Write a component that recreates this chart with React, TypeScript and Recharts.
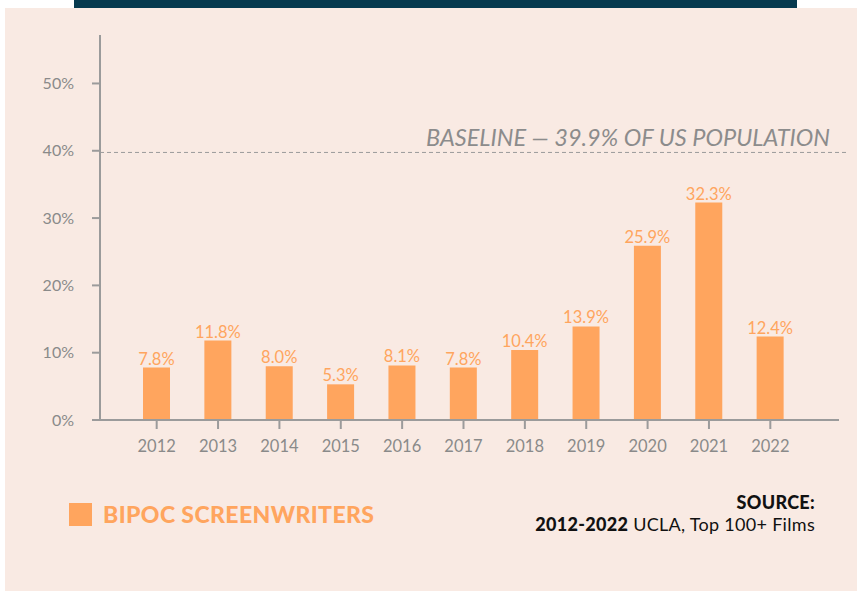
import { BarChart, Bar, XAxis, YAxis, ReferenceLine, LabelList } from "recharts";

const years = ["2012", "2013", "2014", "2015", "2016", "2017", "2018", "2019", "2020", "2021", "2022"];
const bipocShare = [7.8, 11.8, 8.0, 5.3, 8.1, 7.8, 10.4, 13.9, 25.9, 32.3, 12.4];
const yTicks = [0, 10, 20, 30, 40, 50];
const baselineValue = 39.9;
const baselineLabel = "BASELINE — 39.9% OF US POPULATION";
const seriesName = "BIPOC SCREENWRITERS";

const data = years.map((year, i) => ({ year, value: bipocShare[i] }));

const ORANGE = "#ffa55e";
const AXIS = "#9b9b9b";
const TICK_TEXT = "#8a8a8a";

// dashed baseline that runs a little past the plot, with its caption above
function BaselineShape(props: any) {
  const { x1, y1, x2, y2 } = props;
  return (
    <g>
      <line x1={x1} y1={y1 + 1} x2={x2 + 9} y2={y2 + 1} stroke={AXIS} strokeWidth={1} strokeDasharray="4 3" />
      <text
        x={x2 - 9}
        y={y1 - 5}
        textAnchor="end"
        fill="#8c8c8c"
        fontSize={23.5}
        fontStyle="italic"
        fontWeight={400}
      >
        {baselineLabel}
      </text>
    </g>
  );
}

export default function App() {
  return (
    <div style={{ position: "relative", width: 857, height: 592, background: "#fff", fontFamily: "Lato, sans-serif" }}>
      <style>{`body{margin:0}`}</style>
      <div style={{ position: "absolute", left: 74, top: 0, width: 723, height: 8, background: "#063a4f" }} />
      <div style={{ position: "absolute", left: 5, top: 8, width: 852, height: 583, background: "#f9eae3" }} />

      <div style={{ position: "absolute", left: 0, top: 0 }}>
        <BarChart width={857} height={480} data={data} margin={{ top: 35, right: 18, bottom: 20, left: 0 }}>
          <YAxis
            width={100}
            domain={[0, 57.2]}
            ticks={yTicks}
            tickFormatter={(v: number) => `${v}%`}
            axisLine={{ stroke: AXIS, strokeWidth: 2 }}
            tickLine={{ stroke: AXIS, strokeWidth: 2 }}
            tickSize={8}
            tickMargin={18}
            tick={{ fill: TICK_TEXT, fontSize: 16 }}
          />
          <XAxis
            dataKey="year"
            interval={0}
            height={40}
            padding={{ left: 26, right: 38 }}
            axisLine={{ stroke: AXIS, strokeWidth: 2 }}
            tickLine={{ stroke: AXIS, strokeWidth: 2 }}
            tickSize={9}
            tickMargin={11}
            tick={{ fill: TICK_TEXT, fontSize: 16.5 }}
          />
          <ReferenceLine y={baselineValue} ifOverflow="visible" shape={BaselineShape} />
          <Bar dataKey="value" fill={ORANGE} barSize={27} isAnimationActive={false}>
            <LabelList
              dataKey="value"
              position="top"
              offset={3}
              formatter={(v: any) => `${Number(v).toFixed(1)}%`}
              fill={ORANGE}
              fontSize={16.5}
            />
          </Bar>
        </BarChart>
      </div>

      {/* legend */}
      <div style={{ position: "absolute", left: 69, top: 503, display: "flex", alignItems: "center" }}>
        <span style={{ width: 23, height: 23, background: ORANGE, display: "inline-block" }} />
        <span style={{ marginLeft: 11, color: ORANGE, fontSize: 23, fontWeight: 900, letterSpacing: 0.4, lineHeight: "23px" }}>
          {seriesName}
        </span>
      </div>

      {/* source */}
      <div style={{ position: "absolute", right: 42, top: 491, textAlign: "right", color: "#111", fontSize: 18, letterSpacing: 0.3, lineHeight: "22px" }}>
        <div style={{ fontWeight: 900 }}>SOURCE:</div>
        <div>
          <span style={{ fontWeight: 900 }}>2012-2022</span> UCLA, Top 100+ Films
        </div>
      </div>
    </div>
  );
}
